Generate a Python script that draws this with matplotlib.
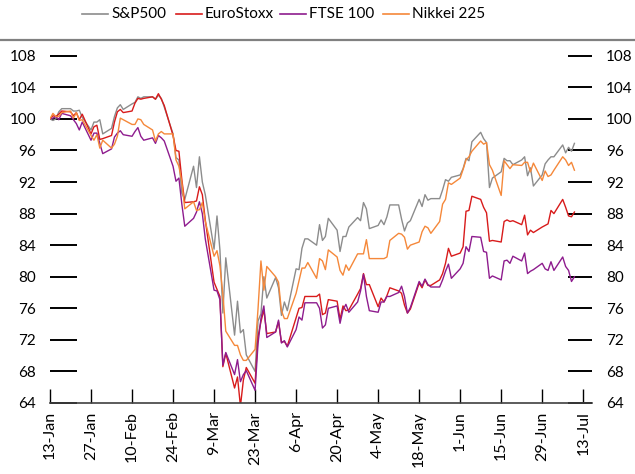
import matplotlib
matplotlib.use('Agg')
import matplotlib.pyplot as plt
import pandas as pd
from matplotlib.lines import Line2D

plt.rcParams['font.family'] = ['Lato', 'DejaVu Sans']

# Trading days (weekdays) 13 Jan - 10 Jul 2020, index 13 Jan = 100
dates = pd.bdate_range('2020-01-13', '2020-07-10')

sp500 = [
    100.0, 99.8, 100.0, 100.9, 101.3,
    101.3, 101.0, 101.0, 101.1, 100.2,
    98.6, 99.6, 99.6, 99.9, 98.1,
    98.8, 100.3, 101.4, 101.8, 101.2,
    101.9, 102.1, 102.8, 102.6, 102.8,
    102.8, 102.5, 103.0, 102.6, 101.5,
    98.1, 95.1, 94.8, 90.6, 89.8,
    94.0, 91.3, 95.2, 92.0, 90.4,
    83.5, 87.7, 83.4, 75.4, 82.4,
    72.6, 76.9, 72.9, 73.3, 70.1,
    68.0, 74.4, 75.3, 80.0, 77.3,
    79.9, 78.6, 75.1, 76.8, 75.7,
    81.0, 80.9, 83.6, 84.8, 84.8,
    84.0, 86.6, 84.6, 85.1, 87.4,
    85.9, 83.2, 85.1, 85.1, 86.3,
    87.5, 87.1, 89.4, 88.6, 86.1,
    86.5, 87.2, 86.6, 87.6, 89.1,
    89.1, 87.3, 85.8, 86.8, 87.1,
    89.8, 88.9, 90.4, 89.7, 89.9,
    89.9, 91.0, 92.3, 92.1, 92.6,
    92.9, 93.7, 95.0, 94.7, 97.1,
    98.3, 97.5, 97.0, 91.3, 92.5,
    93.3, 95.0, 94.7, 94.7, 94.2,
    94.8, 95.2, 92.8, 93.8, 91.5,
    92.9, 94.3, 94.8, 95.2, 95.2,
    96.7, 95.7, 96.4, 95.9, 96.9,
]

eurostoxx = [
    100.0, 100.4, 100.3, 100.6, 101.0,
    100.9, 100.4, 100.8, 99.9, 100.6,
    98.1, 99.0, 99.2, 97.4, 97.5,
    97.9, 99.6, 100.9, 101.2, 100.8,
    101.0, 102.0, 102.6, 102.5, 102.6,
    102.8, 102.5, 103.2, 102.5, 101.7,
    97.9, 96.0, 95.9, 92.3, 89.4,
    89.5, 89.6, 91.4, 90.4, 87.2,
    79.3, 78.4, 77.5, 68.6, 70.3,
    65.9, 67.3, 63.6, 66.9, 68.5,
    66.5, 72.4, 74.3, 75.8, 72.8,
    73.0, 74.3, 71.7, 71.8, 71.2,
    74.8, 76.0, 76.1, 77.5, 77.5,
    77.5, 77.8, 75.2, 75.4, 77.1,
    76.9, 74.6, 76.3, 75.7, 75.8,
    77.8, 78.5, 80.4, 79.0, 79.0,
    76.2, 77.3, 76.8, 77.6, 78.6,
    78.2, 77.9, 76.4, 75.4, 75.9,
    79.2, 78.6, 79.6, 78.9, 78.9,
    79.6, 80.4, 81.7, 83.6, 82.6,
    83.0, 83.8, 88.3, 88.4, 90.2,
    89.8, 88.8, 88.1, 84.5, 84.6,
    84.4, 87.0, 87.2, 87.0, 87.1,
    86.6, 87.8, 85.3, 85.9, 85.6,
    86.3, 86.5, 86.7, 88.4, 88.0,
    89.8, 88.8, 87.7, 87.6, 88.2,
]

ftse100 = [
    100.0, 100.1, 100.3, 99.9, 100.7,
    100.4, 99.9, 99.4, 98.6, 99.6,
    97.3, 98.2, 98.2, 96.9, 95.6,
    96.2, 97.7, 98.2, 98.5, 98.0,
    97.8, 98.4, 98.9, 97.8, 97.3,
    97.6, 96.9, 97.9, 97.6, 97.2,
    94.0, 92.1, 92.5, 89.2, 86.4,
    87.4, 88.2, 89.5, 88.0, 84.8,
    78.3, 78.2, 77.1, 68.8, 70.4,
    67.6, 69.5, 66.7, 67.6, 68.1,
    65.6, 71.5, 74.7, 76.3, 72.3,
    73.0, 74.5, 71.6, 71.9, 71.1,
    73.3, 74.9, 74.5, 76.7, 76.7,
    76.7, 76.0, 73.5, 73.9, 76.0,
    76.3, 74.1, 75.8, 76.5, 75.5,
    76.8, 78.2, 80.3, 77.5, 75.7,
    75.5, 76.8, 76.8, 77.5, 77.5,
    78.0, 78.8, 77.5, 75.4, 76.1,
    79.4, 78.8, 79.7, 79.0, 78.7,
    78.7, 79.6, 80.7, 81.6, 79.8,
    81.0, 81.7, 83.8, 83.2, 85.1,
    85.0, 83.2, 83.1, 79.8, 80.1,
    79.6, 82.0, 82.1, 81.7, 82.6,
    82.0, 83.0, 80.4, 80.7, 80.9,
    81.7, 81.0, 80.8, 81.9, 80.8,
    82.5, 81.3, 80.8, 79.4, 80.0,
]

nikkei225 = [
    100.0, 100.7, 100.3, 100.3, 100.8,
    101.0, 100.1, 100.8, 99.8, 99.9,
    97.9, 97.3, 98.0, 96.3, 97.3,
    96.3, 96.8, 97.8, 100.1, 99.9,
    99.3, 99.3, 100.0, 99.9, 99.3,
    98.6, 97.2, 98.1, 98.4, 98.1,
    98.1, 94.8, 94.0, 92.0, 88.6,
    89.5, 88.4, 88.5, 89.4, 87.0,
    82.6, 83.3, 81.4, 77.8, 73.1,
    71.3, 71.3, 70.1, 69.4, 69.4,
    70.8, 75.9, 82.0, 78.3, 81.3,
    80.0, 79.3, 75.7, 74.7, 74.7,
    77.9, 79.5, 81.1, 81.1, 81.8,
    79.8, 82.3, 82.0, 80.9, 83.4,
    82.5, 80.8, 80.2, 81.5, 80.8,
    82.9, 82.9, 82.9, 84.7, 82.3,
    82.3, 82.3, 82.3, 82.5, 84.6,
    85.5, 85.4, 85.0, 83.5, 84.0,
    84.4, 85.7, 86.4, 86.2, 85.5,
    87.0, 89.2, 89.8, 91.9, 91.7,
    92.5, 93.6, 94.8, 95.2, 95.9,
    97.2, 96.8, 97.0, 94.2, 93.5,
    90.3, 94.7, 94.2, 93.7, 94.2,
    94.1, 94.5, 94.5, 93.3, 94.4,
    92.2, 93.4, 92.7, 92.9, 93.5,
    95.2, 94.8, 94.1, 94.5, 93.5,
]

series_names = ['S&P500', 'EuroStoxx', 'FTSE 100', 'Nikkei 225']
series_colors = ['#8C8C8C', '#D81B1B', '#8E1C8E', '#F5883A']

tick_dates = pd.date_range('2020-01-13', '2020-07-13', freq='14D')
tick_labels = [f"{d.day}-{d.strftime('%b')}" for d in tick_dates]
y_ticks = list(range(64, 109, 4))

W, H = 635, 474
fig = plt.figure(figsize=(W / 100, H / 100), dpi=100)
ax = fig.add_axes([50 / W, 71 / H, 542 / W, 363 / H])

for vals, name, col in zip([sp500, eurostoxx, ftse100, nikkei225], series_names, series_colors):
    ax.plot(dates, vals, color=col, lw=1.0, label=name)

ax.set_ylim(64, 110)
ax.set_xlim(pd.Timestamp('2020-01-13'), pd.Timestamp('2020-07-16'))
ax.set_yticks(y_ticks)
ax.set_xticks(tick_dates)
ax.set_xticklabels(tick_labels, rotation=90)

for s in ['left', 'right', 'top']:
    ax.spines[s].set_visible(False)
ax.spines['bottom'].set_color('#404040')
ax.spines['bottom'].set_linewidth(1.2)

ax.tick_params(axis='y', direction='in', length=19.5, width=1.4, color='black',
               left=True, right=True, labelleft=True, labelright=True,
               pad=10, labelsize=11)
for t in ax.yaxis.get_major_ticks():
    t.tick2line.set_markersize(17.5)
ax.tick_params(axis='x', direction='in', length=10, width=1.0, color='black',
               pad=6, labelsize=11.5)

# top border line across the figure
fig.add_artist(Line2D([0, 1], [434 / H, 434 / H], transform=fig.transFigure,
                      color='#808080', lw=1.6))

# legend (placed entry by entry, as in the reference)
leg_x = [82, 176, 280, 383]
leg_y = 1 - 14 / H
for x0, name, col in zip(leg_x, series_names, series_colors):
    fig.add_artist(Line2D([x0 / W, (x0 + 26) / W], [leg_y, leg_y],
                          transform=fig.transFigure, color=col, lw=1.2))
    fig.text((x0 + 29) / W, leg_y, name, fontsize=11, ha='left', va='center')

fig.savefig('out.png', dpi=100)
